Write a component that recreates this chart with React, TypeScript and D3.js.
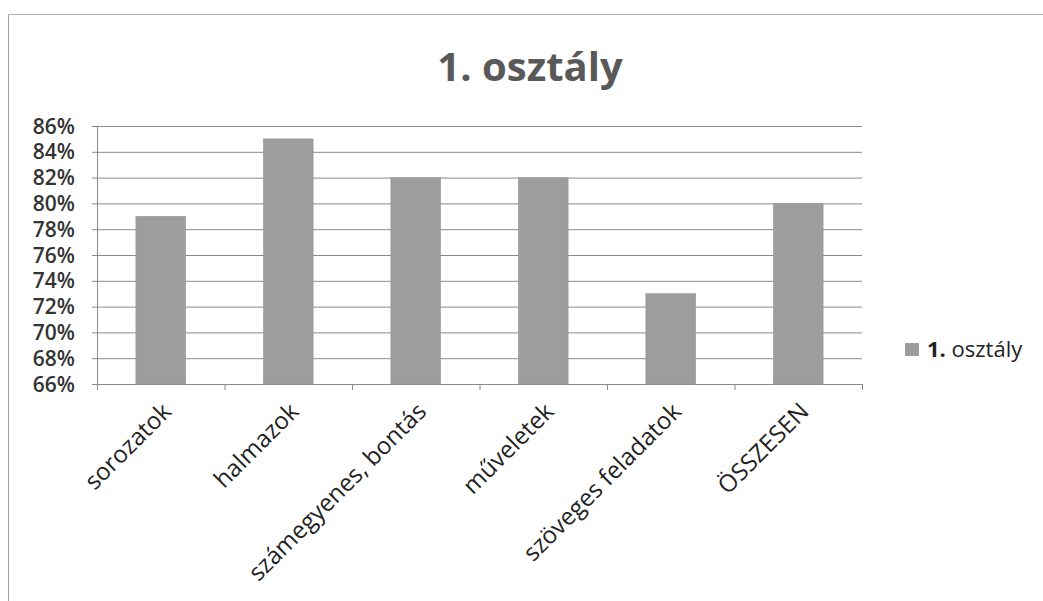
import React from "react";
import * as d3 from "d3";

const categories = ["sorozatok", "halmazok", "számegyenes, bontás", "műveletek", "szöveges feladatok", "ÖSSZESEN"];
const values = [79, 85, 82, 82, 73, 80];
const yTicks = [66, 68, 70, 72, 74, 76, 78, 80, 82, 84, 86];
const seriesName = "osztály";
const seriesNum = "1.";
const title = "1. osztály";

const W = 1043;
const H = 601;
const FONT = "'Open Sans', 'Noto Sans', sans-serif";

export default function App() {
  const left = 97, right = 862, top = 126, bottom = 384;
  const x = d3.scaleBand<string>().domain(categories).range([left, right]).paddingInner(0.61).paddingOuter(0.305);
  const band = d3.scaleBand<string>().domain(categories).range([left, right]);
  const y = d3.scaleLinear().domain([66, 86]).range([bottom, top]);
  const fmt = (v: number) => `${v}%`;

  return (
    <svg width={W} height={H} style={{ position: "absolute", left: 0, top: 0, background: "#fff" }}>
      <line x1={8.5} x2={W} y1={14.5} y2={14.5} stroke="#b0b0b0" />
      <line x1={8.5} x2={8.5} y1={14.5} y2={H} stroke="#a0a0a0" />
      <text x={530} y={81} textAnchor="middle" fontFamily={FONT} fontWeight={700} fontSize={40} fill="#595959">{title}</text>
      {yTicks.map((t) => (
        <g key={t}>
          <line x1={left - 5} x2={right} y1={y(t) + 0.5} y2={y(t) + 0.5} stroke="#8a8a8a" strokeWidth={1} />
          <text x={75} y={y(t) + 7.5} textAnchor="end" fontFamily={FONT} fontWeight={600} fontSize={21} fill="#333">{fmt(t)}</text>
        </g>
      ))}
      <line x1={left + 0.5} x2={left + 0.5} y1={top} y2={bottom} stroke="#8a8a8a" />
      {categories.map((c, i) => (
        <rect key={c} x={x(c)} y={y(values[i])} width={x.bandwidth()} height={bottom - y(values[i])} fill="#9d9d9d" stroke="#8e8e8e" strokeWidth={0.5} />
      ))}
      {[...categories.map((c) => band(c) as number), right].map((tx, i) => (
        <line key={i} x1={tx + 0.5} x2={tx + 0.5} y1={bottom} y2={bottom + 6} stroke="#8a8a8a" />
      ))}
      {categories.map((c) => {
        const cx = (band(c) as number) + band.bandwidth() / 2 + 12;
        const cy = bottom + 29;
        return (
          <text key={c} x={cx} y={cy} transform={`rotate(-45 ${cx} ${cy})`} textAnchor="end" fontFamily={FONT} fontSize={24} fill="#222">{c}</text>
        );
      })}
      <rect x={905} y={343} width={14} height={13} fill="#9d9d9d" />
      <text x={927} y={357} fontFamily={FONT} fontSize={22} fill="#222"><tspan fontWeight={700}>{seriesNum}</tspan> {seriesName}</text>
    </svg>
  );
}
